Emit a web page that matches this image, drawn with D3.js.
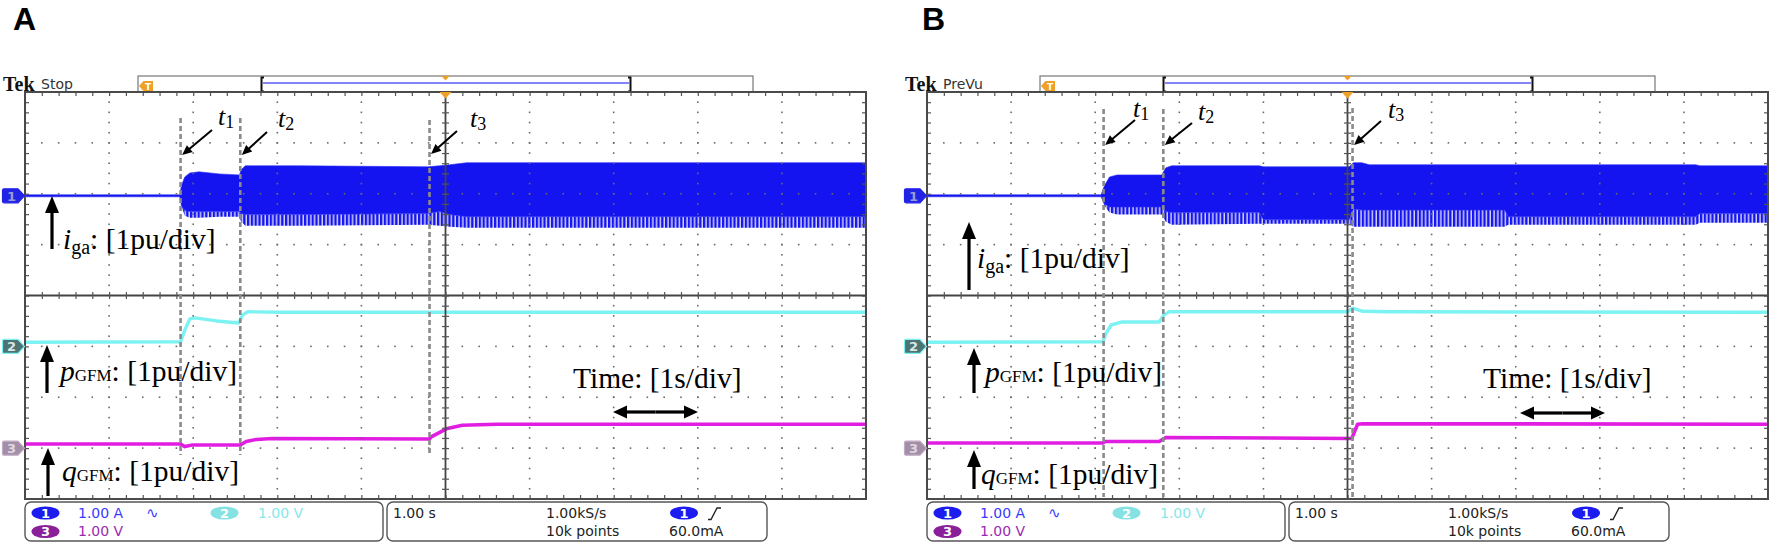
<!DOCTYPE html>
<html><head><meta charset="utf-8">
<script src="https://cdn.jsdelivr.net/npm/d3@7"></script>
<style>body{margin:0;background:#fff}svg{display:block}</style>
</head><body>
<svg id="c" width="1772" height="545"></svg>
<script>
// ---------------- DATA (time in s, 1 s/div; values in pu, 1 pu/div) ----------------
const panelLabels = ["A", "B"];
const statusText = ["Stop", "PreVu"];
const chOffsets = [1.96, -1.0, -3.0];            // channel reference levels [div]
const chScaleText = ["1.00 A", "1.00 V", "1.00 V"];
const timebaseText = "1.00 s";
const sampleRateText = "1.00kS/s";
const recordText = "10k points";
const trigLevelText = "60.0mA";

// events t1, t2, t3
const tEventsA = [-3.15, -2.44, -0.19];
const tEventsB = [-2.90, -2.19, 0.06];

// Panel A – iga envelope (upper edge, solid-lower edge, striped-lower edge)
const tA1   = [-5.0, -3.16, -3.14, -3.10, -3.04, -2.93, -2.69, -2.45, -2.43, -2.38, -1.74, -0.21, -0.07, 0.05, 0.25, 5.0];
const upA1  = [0.02, 0.02, 0.20, 0.37, 0.45, 0.47, 0.43, 0.41, 0.51, 0.59, 0.59, 0.57, 0.59, 0.61, 0.65, 0.65];
const midA1 = [-0.02, -0.02, -0.20, -0.29, -0.31, -0.31, -0.31, -0.31, -0.35, -0.37, -0.37, -0.35, -0.31, -0.37, -0.41, -0.41];
const loA1  = [-0.02, -0.02, -0.20, -0.39, -0.43, -0.43, -0.41, -0.41, -0.51, -0.59, -0.59, -0.57, -0.59, -0.61, -0.63, -0.63];
// Panel A – pGFM
const tA2 = [-5.0, -3.15, -3.10, -3.04, -2.98, -2.72, -2.46, -2.41, -2.35, -1.94, 5.0];
const vA2 = [0.08, 0.09, 0.32, 0.54, 0.56, 0.50, 0.46, 0.62, 0.68, 0.67, 0.67];
// Panel A – qGFM
const tA3 = [-5.0, -3.15, -3.10, -3.01, -2.44, -2.37, -2.25, -2.06, -0.19, -0.17, 0.01, 0.20, 0.61, 5.0];
const vA3 = [0.08, 0.08, 0.03, 0.06, 0.06, 0.13, 0.17, 0.19, 0.18, 0.22, 0.38, 0.45, 0.47, 0.47];

// Panel B – iga envelope
const tB1   = [-5.0, -2.93, -2.89, -2.83, -2.74, -2.21, -2.16, -2.09, -1.05, -1.00, 0.02, 0.07, 0.17, 0.26, 1.87, 1.91, 4.14, 4.19, 5.0];
const upB1  = [0.02, 0.02, 0.20, 0.37, 0.41, 0.41, 0.55, 0.59, 0.59, 0.57, 0.57, 0.65, 0.65, 0.61, 0.61, 0.61, 0.61, 0.59, 0.59];
const midB1 = [-0.02, -0.02, -0.16, -0.22, -0.22, -0.22, -0.31, -0.33, -0.33, -0.47, -0.47, -0.26, -0.28, -0.28, -0.28, -0.41, -0.41, -0.35, -0.35];
const loB1  = [-0.02, -0.02, -0.20, -0.33, -0.37, -0.37, -0.51, -0.57, -0.55, -0.55, -0.55, -0.61, -0.61, -0.61, -0.61, -0.57, -0.57, -0.53, -0.53];
// Panel B – pGFM
const tB2 = [-5.0, -2.91, -2.87, -2.81, -2.68, -2.24, -2.18, -2.12, 0.0, 0.06, 0.18, 0.5, 5.0];
const vB2 = [0.08, 0.09, 0.26, 0.42, 0.48, 0.48, 0.62, 0.68, 0.68, 0.75, 0.69, 0.68, 0.67];
// Panel B – qGFM
const tB3 = [-5.0, -2.91, -2.88, -2.24, -2.16, 0.05, 0.12, 0.18, 5.0];
const vB3 = [0.10, 0.10, 0.13, 0.13, 0.21, 0.19, 0.47, 0.48, 0.47];

// ---------------- DRAWING ----------------
const svg = d3.select("#c");
const defs = svg.append("defs");
const pat = defs.append("pattern").attr("id", "stripes").attr("patternUnits", "userSpaceOnUse")
  .attr("width", 3.8).attr("height", 10);
pat.append("rect").attr("width", 3.8).attr("height", 10).attr("fill", "#cfcff8");
pat.append("rect").attr("width", 2.3).attr("height", 10).attr("fill", "#1414f0");

const SERIF = "'Liberation Serif','Times New Roman',serif";
const SANS = "'DejaVu Sans',Verdana,sans-serif";
const BLUE = "#1414f0", CYAN = "#7df2f2", MAG = "#e21de2";

function arrow(g, x1, y1, x2, y2, hl, hw, w) {
  const a = Math.atan2(y2 - y1, x2 - x1), c = Math.cos(a), s = Math.sin(a);
  const bx = x2 - hl * c, by = y2 - hl * s;
  g.append("line").attr("x1", x1).attr("y1", y1).attr("x2", bx + c).attr("y2", by + s)
    .attr("stroke", "#000").attr("stroke-width", w);
  g.append("path").attr("d", `M${x2},${y2}L${bx - hw / 2 * s},${by + hw / 2 * c}L${bx + hw / 2 * s},${by - hw / 2 * c}Z`)
    .attr("fill", "#000");
}

function panel(ox, idx, cfg) {
  const g = svg.append("g").attr("transform", `translate(${ox},0)`);
  const x = d3.scaleLinear().domain([-5, 5]).range([25, 866]);
  const y = d3.scaleLinear().domain([-4, 4]).range([499, 92]);

  // panel letter
  g.append("text").attr("x", cfg.labelX).attr("y", 30).attr("font-family", "'Liberation Sans',Arial,sans-serif")
    .attr("font-weight", "bold").attr("font-size", 32).text(panelLabels[idx]);
  // header
  g.append("text").attr("x", 3).attr("y", 91).attr("font-family", SERIF).attr("font-weight", "bold")
    .attr("font-size", 20).attr("fill", "#111").text("Tek");
  g.append("text").attr("x", 41).attr("y", 89).attr("font-family", SANS).attr("font-size", 14)
    .attr("fill", "#333").text(statusText[idx]);
  // record bar
  g.append("rect").attr("x", 138).attr("y", 76).attr("width", 615).attr("height", 16)
    .attr("fill", "#fff").attr("stroke", "#777").attr("stroke-width", 1.2);
  g.append("line").attr("x1", 263).attr("x2", 629).attr("y1", 83).attr("y2", 83)
    .attr("stroke", "#5b5bf5").attr("stroke-width", 1.6);
  g.append("path").attr("d", "M264,77.5H261.5V91.5H264").attr("fill", "none").attr("stroke", "#111").attr("stroke-width", 2);
  g.append("path").attr("d", "M628,77.5H630.5V91.5H628").attr("fill", "none").attr("stroke", "#111").attr("stroke-width", 2);
  g.append("path").attr("d", "M139,86L143.5,81H153V91H143.5Z").attr("fill", "#f0a024");
  g.append("text").attr("x", 148).attr("y", 90).attr("text-anchor", "middle").attr("font-family", SANS)
    .attr("font-weight", "bold").attr("font-size", 9).attr("fill", "#fff").text("T");
  const xc = x(0);
  g.append("path").attr("d", `M${xc - 4},76L${xc + 4},76L${xc},80.5Z`).attr("fill", "#f0a024");

  // clip
  const cid = "clip" + idx;
  defs.append("clipPath").attr("id", cid).append("rect").attr("x", 25).attr("y", 92).attr("width", 841).attr("height", 407);
  const tr = g.append("g").attr("clip-path", `url(#${cid})`);

  // channel 1 envelope
  const d1 = cfg.t1.map((t, i) => ({ t, up: cfg.up1[i], mid: cfg.mid1[i], lo: cfg.lo1[i] }));
  tr.append("path").datum(d1).attr("fill", "url(#stripes)")
    .attr("d", d3.area().x(d => x(d.t)).y0(d => y(chOffsets[0] + d.lo)).y1(d => y(chOffsets[0] + d.mid)));
  tr.append("path").datum(d1).attr("fill", BLUE).attr("stroke", "#2a2af5").attr("stroke-width", 0.6)
    .attr("d", d3.area().x(d => x(d.t)).y0(d => y(chOffsets[0] + d.mid)).y1(d => y(chOffsets[0] + d.up)));
  // channel 2, 3
  const ln = off => d3.line().x(d => x(d[0])).y(d => y(off + d[1]));
  tr.append("path").datum(d3.zip(cfg.t2, cfg.v2)).attr("fill", "none").attr("stroke", CYAN)
    .attr("stroke-width", 3.4).attr("stroke-linejoin", "round").attr("d", ln(chOffsets[1]));
  tr.append("path").datum(d3.zip(cfg.t3, cfg.v3)).attr("fill", "none").attr("stroke", MAG)
    .attr("stroke-width", 3.6).attr("stroke-linejoin", "round").attr("d", ln(chOffsets[2]));

  // graticule dots
  const grid = g.append("g").attr("fill", "#6a6a6a");
  for (let i = 1; i <= 9; i++) {
    if (i === 5) continue;
    for (let j = 1; j < 40; j++) grid.append("rect").attr("x", x(-5 + i) - 0.8).attr("y", y(-4 + j * 0.2) - 0.8).attr("width", 1.6).attr("height", 1.6);
  }
  for (let k = 1; k <= 7; k++) {
    if (k === 4) continue;
    for (let m = 1; m < 50; m++) grid.append("rect").attr("x", x(-5 + m * 0.2) - 0.8).attr("y", y(-4 + k) - 0.8).attr("width", 1.6).attr("height", 1.6);
  }
  // ticks via axes
  const minX = d3.range(1, 50).map(m => -5 + m * 0.2);
  const minY = d3.range(1, 40).map(m => -4 + m * 0.2);
  const axStyle = sel => { sel.select(".domain").remove(); sel.selectAll("line").attr("stroke", "#555").attr("stroke-width", 1.2); };
  g.append("g").attr("transform", "translate(0,92)").call(d3.axisBottom(x).tickValues(minX).tickSize(4).tickFormat("")).call(axStyle);
  g.append("g").attr("transform", "translate(0,499)").call(d3.axisTop(x).tickValues(minX).tickSize(4).tickFormat("")).call(axStyle);
  g.append("g").attr("transform", "translate(25,0)").call(d3.axisRight(y).tickValues(minY).tickSize(4).tickFormat("")).call(axStyle);
  g.append("g").attr("transform", "translate(866,0)").call(d3.axisLeft(y).tickValues(minY).tickSize(4).tickFormat("")).call(axStyle);
  // center cross
  const yc = y(0);
  g.append("line").attr("x1", 25).attr("x2", 866).attr("y1", yc).attr("y2", yc).attr("stroke", "#444").attr("stroke-width", 1.8);
  g.append("line").attr("x1", xc).attr("x2", xc).attr("y1", 92).attr("y2", 499).attr("stroke", "#444").attr("stroke-width", 1.8);
  g.append("g").attr("transform", `translate(0,${yc - 3.5})`).call(d3.axisBottom(x).tickValues(minX).tickSize(7).tickFormat("")).call(axStyle);
  g.append("g").attr("transform", `translate(${xc - 3.5},0)`).call(d3.axisRight(y).tickValues(minY).tickSize(7).tickFormat("")).call(axStyle);
  // border
  g.append("rect").attr("x", 25).attr("y", 92).attr("width", 841).attr("height", 407)
    .attr("fill", "none").attr("stroke", "#4a4a4a").attr("stroke-width", 2);
  g.append("path").attr("d", `M${xc - 6},92L${xc + 6},92L${xc},98.5Z`).attr("fill", "#f0a024");

  // channel markers
  const mk = [
    { fill: "#2323e6", stroke: "#2323e6", txt: "#9a9ad8", label: "1" },
    { fill: "#4e7373", stroke: "#7df2f2", txt: "#d8e8e8", label: "2" },
    { fill: "#a38ea8", stroke: "#c0aac4", txt: "#e0d6e2", label: "3" }];
  mk.forEach((m, i) => {
    const yy = y(chOffsets[i]);
    g.append("path").attr("d", `M4,${yy - 7}H18L24.5,${yy}L18,${yy + 7}H4Q2.5,${yy + 7} 2.5,${yy + 5.5}V${yy - 5.5}Q2.5,${yy - 7} 4,${yy - 7}Z`)
      .attr("fill", m.fill).attr("stroke", m.stroke).attr("stroke-width", 1.2);
    g.append("text").attr("x", 11.5).attr("y", yy + 5).attr("text-anchor", "middle").attr("font-family", SANS)
      .attr("font-weight", "bold").attr("font-size", 13).attr("fill", m.txt).text(m.label);
  });

  // event dashed lines + t labels
  cfg.events.forEach((te, i) => {
    g.append("line").attr("x1", x(te)).attr("x2", x(te)).attr("y1", cfg.dashTop[i]).attr("y2", cfg.dashBot)
      .attr("stroke", "#8a8a8a").attr("stroke-width", 2.6).attr("stroke-dasharray", "5,3");
    const [tx, ty] = cfg.tText[i];
    const t = g.append("text").attr("x", tx).attr("y", ty).attr("font-family", SERIF).attr("font-size", 26);
    t.append("tspan").attr("font-style", "italic").text("t");
    t.append("tspan").attr("font-size", 18).attr("dy", 3).text(String(i + 1));
    const [ax, ay, tipY] = cfg.tArrow[i];
    arrow(g, ax, ay, x(te) + 1.5, tipY, 10, 9, 2);
  });

  // signal labels
  function sigLabel(l, main, sub, subDy) {
    arrow(g, l.ax, l.ay1, l.ax, l.ay2, 17, 14, 3.2);
    const t = g.append("text").attr("x", l.tx).attr("y", l.ty).attr("font-family", SERIF).attr("font-size", 29.5).attr("fill", "#000");
    t.append("tspan").attr("font-style", "italic").text(main);
    t.append("tspan").attr("font-size", sub === "ga" ? 20 : 17).attr("dy", subDy).text(sub);
    t.append("tspan").attr("dy", -subDy).text(": [1pu/div]");
  }
  sigLabel(cfg.lab[0], "i", "ga", 5);
  sigLabel(cfg.lab[1], "p", "GFM", 0);
  sigLabel(cfg.lab[2], "q", "GFM", 0);
  g.append("text").attr("x", cfg.time.tx).attr("y", 388).attr("font-family", SERIF).attr("font-size", 29.5).text("Time: [1s/div]");
  arrow(g, (cfg.time.x1 + cfg.time.x2) / 2, cfg.time.y, cfg.time.x1, cfg.time.y, 14, 13, 3.2);
  arrow(g, (cfg.time.x1 + cfg.time.x2) / 2, cfg.time.y, cfg.time.x2, cfg.time.y, 14, 13, 3.2);

  // info boxes
  const ib = g.append("g").attr("font-family", SANS).attr("font-size", 14);
  ib.append("rect").attr("x", 25).attr("y", 502).attr("width", 358).attr("height", 39).attr("rx", 6)
    .attr("fill", "#fff").attr("stroke", "#555").attr("stroke-width", 1.4);
  ib.append("rect").attr("x", 387).attr("y", 502).attr("width", 380).attr("height", 39).attr("rx", 6)
    .attr("fill", "#fff").attr("stroke", "#555").attr("stroke-width", 1.4);
  const oval = (cx, cy, fill, lab) => {
    ib.append("ellipse").attr("cx", cx).attr("cy", cy).attr("rx", 14).attr("ry", 6.6).attr("fill", fill);
    ib.append("text").attr("x", cx).attr("y", cy + 4.8).attr("text-anchor", "middle").attr("font-weight", "bold")
      .attr("font-size", 13).attr("fill", "#fff").text(lab);
  };
  oval(45.5, 513, "#1c1cf0", "1");
  ib.append("text").attr("x", 78).attr("y", 518).attr("fill", "#3a3aff").text(chScaleText[0]);
  ib.append("text").attr("x", 146).attr("y", 518).attr("fill", "#3a3aff").attr("font-size", 15).text("\u223F");
  oval(224.5, 513, "#86e2e2", "2");
  ib.append("text").attr("x", 258).attr("y", 518).attr("fill", "#86e8e8").text(chScaleText[1]);
  oval(45.5, 531.5, "#8a1f9a", "3");
  ib.append("text").attr("x", 78).attr("y", 536).attr("fill", "#9a2ab0").text(chScaleText[2]);
  ib.append("text").attr("x", 393).attr("y", 518).attr("fill", "#222").text(timebaseText);
  ib.append("text").attr("x", 546).attr("y", 518).attr("fill", "#222").text(sampleRateText);
  ib.append("text").attr("x", 546).attr("y", 536).attr("fill", "#222").text(recordText);
  oval(684, 513, "#1c1cf0", "1");
  ib.append("path").attr("d", "M708,519.5H711L717,508H721").attr("fill", "none").attr("stroke", "#222").attr("stroke-width", 1.4);
  ib.append("text").attr("x", 669).attr("y", 536).attr("fill", "#222").text(trigLevelText);
}

panel(0, 0, {
  labelX: 13,
  t1: tA1, up1: upA1, mid1: midA1, lo1: loA1, t2: tA2, v2: vA2, t3: tA3, v3: vA3,
  events: tEventsA, dashTop: [118, 118, 120], dashBot: 455,
  tText: [[218, 125], [278, 127], [470, 127]],
  tArrow: [[212, 130, 155], [267, 132, 155], [457, 131, 154]],
  lab: [{ ax: 52, ay1: 249, ay2: 196, tx: 63, ty: 249 },
        { ax: 47, ay1: 393, ay2: 345, tx: 60, ty: 381 },
        { ax: 48, ay1: 496, ay2: 448, tx: 62, ty: 481 }],
  time: { tx: 573, x1: 613, x2: 698, y: 412 }
});
panel(902, 1, {
  labelX: 20,
  t1: tB1, up1: upB1, mid1: midB1, lo1: loB1, t2: tB2, v2: vB2, t3: tB3, v3: vB3,
  events: tEventsB, dashTop: [109, 109, 108], dashBot: 497,
  tText: [[231, 117], [296, 120], [486, 118]],
  tArrow: [[233, 120, 145], [290, 123, 145], [479, 121, 145]],
  lab: [{ ax: 67, ay1: 290, ay2: 222, tx: 75, ty: 268 },
        { ax: 72, ay1: 393, ay2: 348, tx: 83, ty: 382 },
        { ax: 72, ay1: 489, ay2: 450, tx: 79, ty: 484 }],
  time: { tx: 581, x1: 618, x2: 703, y: 413 }
});
</script>
</body></html>
